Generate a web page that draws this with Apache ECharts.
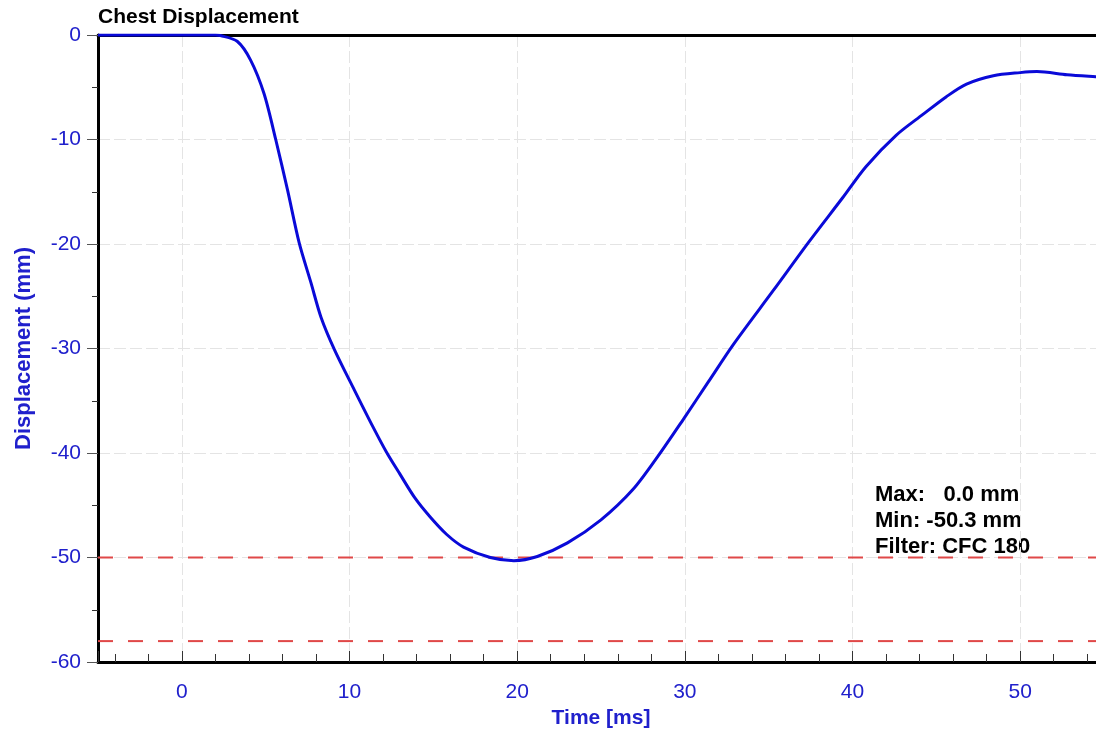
<!DOCTYPE html>
<html>
<head>
<meta charset="utf-8">
<script src="https://cdn.jsdelivr.net/npm/echarts@6/dist/echarts.min.js"></script>
<style>
  html, body { margin: 0; padding: 0; background: #fff; }
  #chest-chart { width: 1096px; height: 732px; }
</style>
</head>
<body>
<div id="chest-chart"></div>
<script>
// time [ms] and chest displacement [mm]
const timeMs = [-5, 0, 2, 2.3, 3.3, 4.1, 4.9, 5.6, 6.3, 7.0, 7.7, 8.3, 9.1, 10.3, 11.4, 12.2,
  13.0, 13.9, 14.8, 15.8, 16.8, 18.4, 19.8, 21.2, 23.0, 25.0, 26.9, 28.4, 29.9, 31.4, 32.9,
  35.3, 37.4, 39.4, 40.8, 42.6, 44.2, 45.6, 46.8, 48.4, 50.0, 51.0, 52.8, 54.5, 55];
const displacement = [0, 0, 0, -0.05, -0.6, -2.4, -5.6, -10.0, -14.8, -19.9, -23.7, -27.0, -30.1, -34.0, -37.5, -39.9,
  -42.0, -44.3, -46.1, -47.8, -49.0, -50.0, -50.3, -49.9, -48.6, -46.4, -43.5, -40.3, -36.8, -33.2, -29.6,
  -24.4, -19.8, -15.6, -12.6, -9.6, -7.6, -5.9, -4.7, -3.9, -3.6, -3.5, -3.8, -4.0, -4.05];
const timeRange = [-5, 55];
const limitLines = [-50, -58];
const infoLines = ['Max:   0.0 mm', 'Min: -50.3 mm', 'Filter: CFC 180'];

const chartDom = document.getElementById('chest-chart');
const chart = echarts.init(chartDom);

const blue = '#2020cc';
const red = '#e04848';
const font = 'Arial, "Liberation Sans", sans-serif';

// dashed red limit lines across the whole time range
const limitSeries = limitLines.map(v => ({
  type: 'line',
  silent: true,
  z: 1,
  showSymbol: false,
  data: timeRange.map(t => [t, v]),
  lineStyle: { color: red, type: [15, 15], width: 2 }
}));

chart.setOption({
  animation: false,
  title: {
    text: 'Chest Displacement',
    left: 98,
    top: 7,
    padding: 0,
    textStyle: { fontFamily: font, fontSize: 21, fontWeight: 'bold', color: '#000' }
  },
  grid: { left: 98, right: -8, top: 35, bottom: 70, outerBoundsMode: 'none', containLabel: false },
  graphic: [{
    type: 'text',
    left: 875,
    top: 482,
    style: {
      text: infoLines.join('\n'),
      font: 'bold 22px ' + font,
      lineHeight: 26,
      fill: '#000'
    }
  }],
  xAxis: [{
    type: 'value',
    min: timeRange[0],
    max: timeRange[1],
    name: 'Time [ms]',
    nameLocation: 'middle',
    nameGap: 39,
    nameTextStyle: { fontFamily: font, fontSize: 21, fontWeight: 'bold', color: blue },
    axisLine: { onZero: false, lineStyle: { color: '#000', width: 3 } },
    axisTick: { inside: true, length: 11, lineStyle: { color: '#333', width: 1 } },
    minorTick: { show: true, splitNumber: 5, length: 8, lineStyle: { color: '#333', width: 1 } },
    axisLabel: {
      showMinLabel: false, showMaxLabel: false, margin: 20,
      fontFamily: font, fontSize: 21, color: blue
    },
    splitLine: { show: true, lineStyle: { color: '#e4e4e4', type: [12, 4] } }
  }, {
    type: 'value',
    position: 'top',
    min: timeRange[0],
    max: timeRange[1],
    axisLine: { show: true, onZero: false, lineStyle: { color: '#000', width: 3 } },
    axisTick: { show: false },
    axisLabel: { show: false },
    splitLine: { show: false }
  }],
  yAxis: {
    type: 'value',
    min: -60,
    max: 0,
    name: 'Displacement (mm)',
    nameLocation: 'middle',
    nameGap: 63,
    nameTextStyle: { fontFamily: font, fontSize: 22, fontWeight: 'bold', color: blue },
    axisLine: { show: true, onZero: false, lineStyle: { color: '#000', width: 3 } },
    axisTick: { show: true, length: 11, lineStyle: { color: '#555', width: 1 } },
    minorTick: { show: true, splitNumber: 2, length: 6, lineStyle: { color: '#333', width: 1 } },
    axisLabel: { margin: 17, fontFamily: font, fontSize: 21, color: blue },
    splitLine: { show: true, lineStyle: { color: '#e4e4e4', type: [12, 4] } }
  },
  series: limitSeries.concat([{
    type: 'line',
    z: 3,
    data: timeMs.map((t, i) => [t, displacement[i]]),
    showSymbol: false,
    smooth: 0.3,
    lineStyle: { color: '#0a0ad8', width: 3 }
  }])
});

window.addEventListener('resize', function () {
  chart.resize();
});
</script>
</body>
</html>
